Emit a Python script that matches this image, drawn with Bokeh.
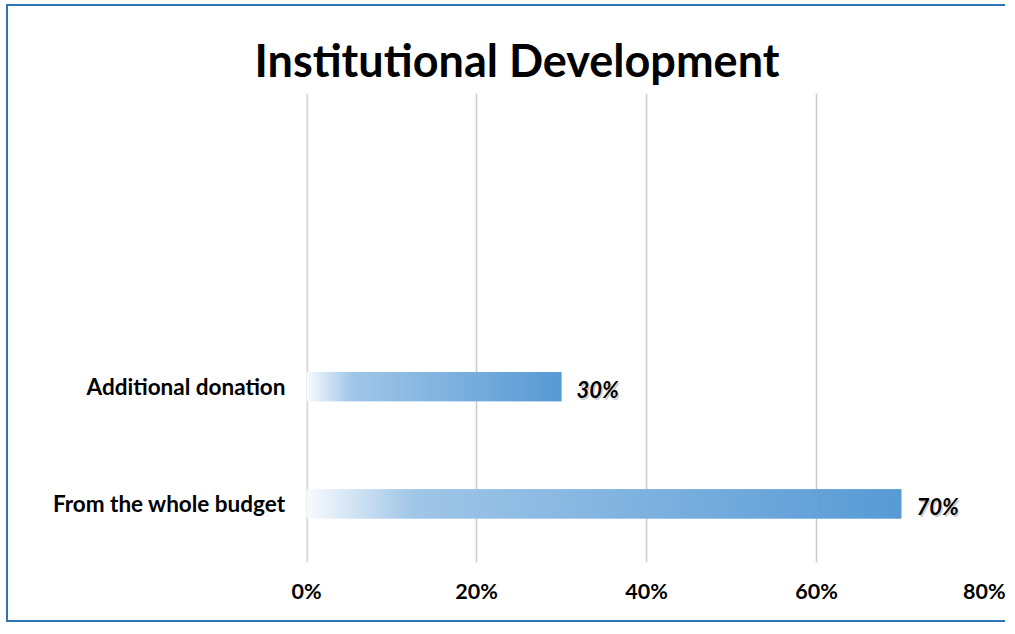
import numpy as np
from bokeh.plotting import figure
from bokeh.models import Range1d, FixedTicker, Span, ColumnDataSource, Title
from bokeh.core.properties import value
from bokeh.embed import file_html
from bokeh.resources import INLINE

# ---- data ----
categories = ["From the whole budget", "Additional donation"]
values = [70, 30]
x_ticks = [0, 20, 40, 60, 80]
x_tick_labels = ["0%", "20%", "40%", "60%", "80%"]
title_text = "Institutional Development"

FONT = "Lato"
BLUE = np.array([82, 151, 212])
BORDER = "#2E75B6"

cat_pos = [i + 0.5 for i in range(len(categories))]

p = figure(width=999, height=618, output_backend="svg", toolbar_location=None,
           x_range=Range1d(0, 80), y_range=Range1d(0, 4),
           min_border_left=298, min_border_right=21, min_border_top=87, min_border_bottom=62)
p.styles = {"margin-left": "6px", "margin-top": "4px",
            "border-left": f"2px solid {BORDER}", "border-top": f"2px solid {BORDER}",
            "border-bottom": f"2px solid {BORDER}"}
p.outline_line_color = None
p.background_fill_color = "white"
p.border_fill_color = "white"

# gridlines
p.xgrid.ticker = FixedTicker(ticks=x_ticks[1:])
p.xgrid.grid_line_color = "#CCCCCC"
p.xgrid.grid_line_width = 1.6
p.ygrid.visible = False
p.add_layout(Span(location=0, dimension="height", line_color="#D6D6D6", line_width=3.5, level="underlay"))

# gradient bars built from stripes (opaque colours)
def hexc(rgb):
    r, g, b = [int(round(c)) for c in rgb]
    return f"#{r:02x}{g:02x}{b:02x}"

N = 200
lefts, rights, ys, cols = [], [], [], []
for v, y in zip(values, cat_pos):
    edges = np.linspace(0, v, N + 1)
    t = (edges[:-1] + edges[1:]) / 2 / v
    a = np.where(t < 0.18, 0.04 + (0.55 - 0.04) * t / 0.18, 0.55 + (0.97 - 0.55) * (t - 0.18) / 0.82)
    lefts += list(edges[:-1])
    rights += list(np.minimum(edges[1:] + v * 0.004, v))
    ys += [y] * N
    cols += [hexc(255 * (1 - ai) + BLUE * ai) for ai in a]
src = ColumnDataSource(dict(left=lefts, right=rights, y=ys, c=cols))
p.hbar(y="y", left="left", right="right", height=0.25, source=src,
       fill_color="c", line_color=None)

# value labels (with a soft shadow)
lab = ColumnDataSource(dict(x=values, y=cat_pos, t=[f"{v}%" for v in values]))
p.text(x="x", y="y", text="t", source=lab, x_offset=16.5, y_offset=4.5, text_baseline="middle",
       text_font=value(FONT), text_font_style="bold italic", text_font_size="22px",
       text_color="#777777", text_alpha=0.35)
p.text(x="x", y="y", text="t", source=lab, x_offset=15, y_offset=3, text_baseline="middle",
       text_font=value(FONT), text_font_style="bold italic", text_font_size="22px", text_color="black")

# axes
p.xaxis.ticker = FixedTicker(ticks=x_ticks)
p.xaxis.major_label_overrides = {t: l for t, l in zip(x_ticks, x_tick_labels)}
p.yaxis.ticker = FixedTicker(ticks=cat_pos)
p.yaxis.major_label_overrides = {c: l for c, l in zip(cat_pos, categories)}
for ax in (p.xaxis[0], p.yaxis[0]):
    ax.axis_line_color = None
    ax.major_tick_line_color = None
    ax.minor_tick_line_color = None
    ax.major_label_text_font = FONT
    ax.major_label_text_font_style = "bold"
    ax.major_label_text_color = "black"
p.xaxis.major_label_text_font_size = "21.5px"
p.yaxis.major_label_text_font_size = "22.5px"
p.xaxis.major_label_standoff = 9
p.yaxis.major_label_standoff = 15

p.title = Title(text=title_text, align="left", offset=-52, text_font=FONT,
                text_font_size="45px", text_font_style="bold", text_color="black", standoff=13)

open("out.html", "w").write(file_html(p, INLINE))
